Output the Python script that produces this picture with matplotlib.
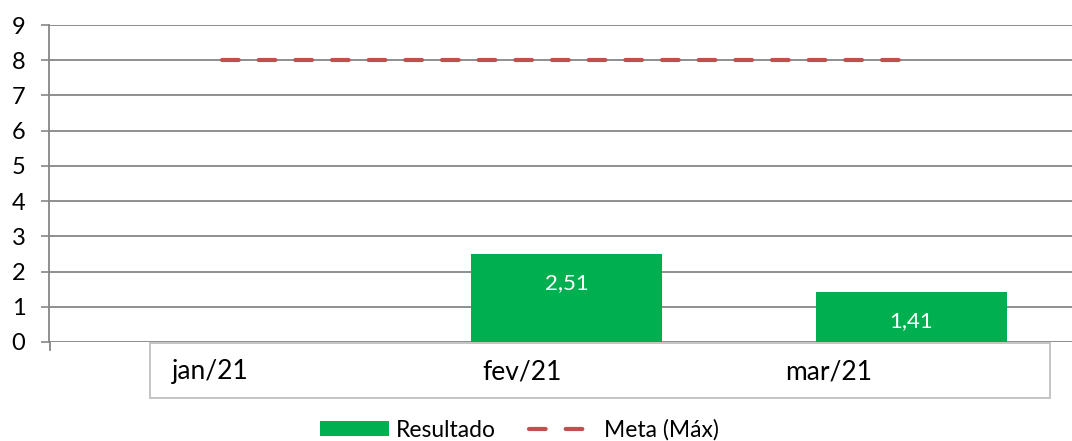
import matplotlib
matplotlib.use("Agg")
import matplotlib.pyplot as plt
from matplotlib.patches import Rectangle, Patch
from matplotlib.lines import Line2D

categories = ["jan/21", "fev/21", "mar/21"]
resultado = [0, 2.51, 1.41]
meta = [8, 8, 8]
yticks = list(range(0, 10))

FONT = "Lato"
W, H = 1072, 441
fig = plt.figure(figsize=(W / 100, H / 100), dpi=100)
fig.patch.set_facecolor("white")

def fx(px):
    return px / W

def fy(py):
    return 1 - py / H

ax = fig.add_axes([fx(49), fy(342), fx(1084) - fx(49), fy(25) - fy(342)])
ax.set_facecolor("white")
x = list(range(len(categories)))

bars = ax.bar(x, resultado, width=0.553, color="#00B050", zorder=2)
for xi, v in zip(x, resultado):
    if v > 0:
        ax.annotate(f"{v:.2f}".replace(".", ","), (xi, v), xytext=(0, -21),
                    textcoords="offset points", ha="center", va="center",
                    color="white", fontsize=16, family=FONT, zorder=3)

DASH = (4.0, 4.8)
ax.plot(x, meta, color="#C0504D", linewidth=3.0, solid_capstyle="round",
        dash_capstyle="round", dashes=DASH, zorder=3)

ax.set_xlim(-0.5, 2.5)
ax.set_ylim(0, 9)
ax.set_yticks(yticks)
ax.set_yticklabels([str(t) for t in yticks], family=FONT, fontsize=17)
ax.tick_params(axis="y", length=6, width=1.2, color="#868686", pad=11)
ax.set_xticks([])
ax.grid(axis="y", color="#868686", linewidth=1.3, zorder=0)
ax.set_axisbelow(True)
for s in ["top", "right", "bottom"]:
    ax.spines[s].set_visible(False)
ax.spines["left"].set_color("#868686")
ax.spines["left"].set_linewidth(1.3)

# small extension of the vertical axis below zero
fig.add_artist(Line2D([fx(49.5), fx(49.5)], [fy(342), fy(350)], color="#868686",
                      linewidth=1.3))

# category label box
box = Rectangle((fx(150), fy(398)), fx(900), fy(343) - fy(398), transform=fig.transFigure,
                facecolor="white", edgecolor="#BFBFBF", linewidth=1.3, zorder=5)
fig.add_artist(box)
label_left = [172, 482, 785]
for lab, lx in zip(categories, label_left):
    fig.text(fx(lx), fy(372), lab, ha="left", va="center", fontsize=19,
             family=FONT, color="black", zorder=6)

handles = [Patch(facecolor="#00B050", edgecolor="none", label="Resultado"),
           Line2D([0], [0], color="#C0504D", linewidth=3.0, dashes=DASH,
                  dash_capstyle="round", label="Meta (Máx)")]
leg = fig.legend(handles=handles, loc="center", bbox_to_anchor=(fx(519.5), fy(430)),
                 ncol=2, frameon=False, prop={"family": FONT, "size": 16.5},
                 handlelength=3.0, handleheight=0.6, handletextpad=0.3,
                 columnspacing=1.45)

fig.savefig("out.png", dpi=100, facecolor="white")
